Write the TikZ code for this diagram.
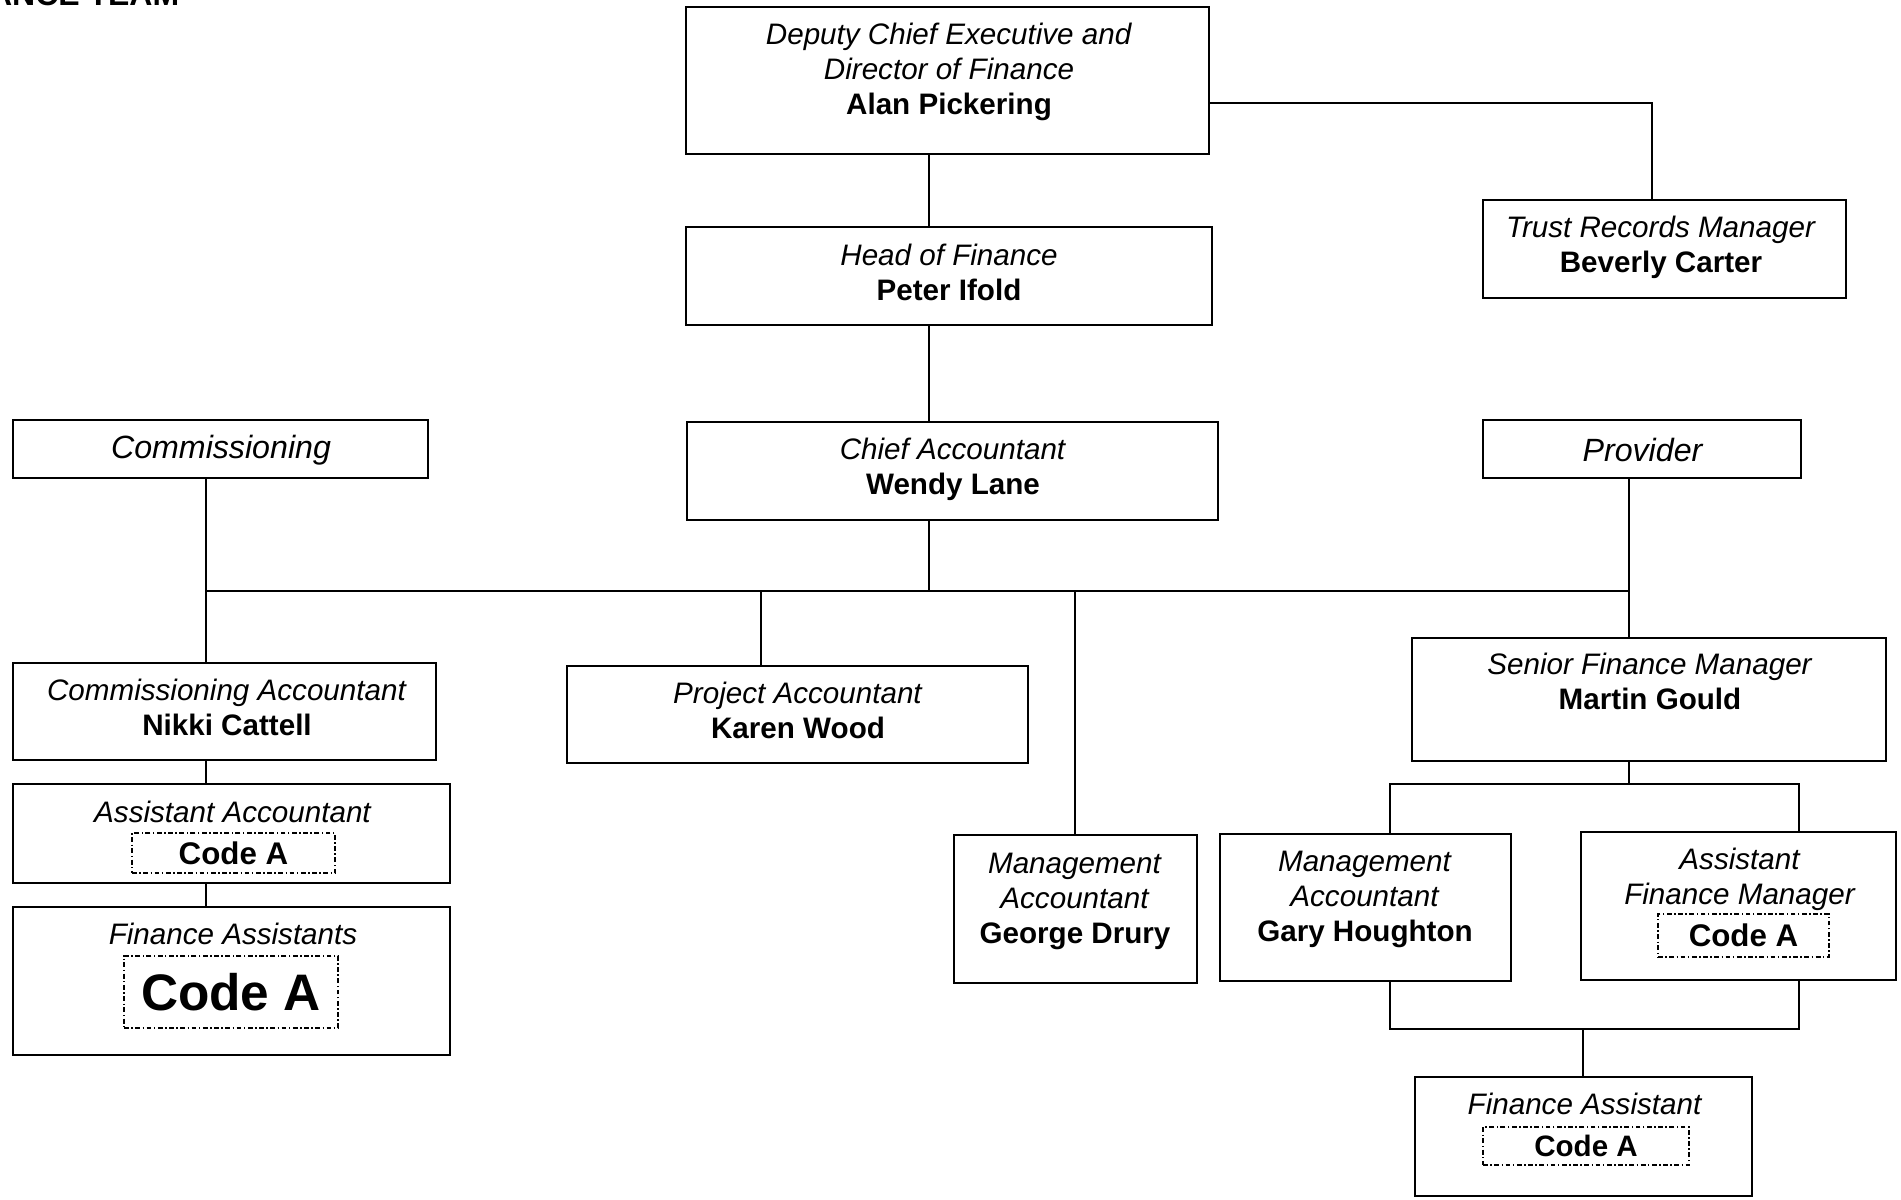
\documentclass[tikz,border=0pt]{standalone}
\usepackage{fontspec}
\setmainfont{Liberation Sans}
\usetikzlibrary{calc}
\newcommand\orgbox[5]{\node[box, minimum width={(#4-#2)*0.01cm}, minimum height={(#5-#3)*0.01cm}] (#1) at ({(#2+#4)/2},{(#3+#5)/2}) {};}
\newcommand\codebx[6]{\node[#6, minimum width={(#4-#2)*0.01cm}, minimum height={(#5-#3)*0.01cm}] (#1) at ({(#2+#4)/2},{(#3+#5)/2}) {Code A};}
\begin{document}
\begin{tikzpicture}[x=0.01cm,y=-0.01cm,
  box/.style={draw, line width=0.6pt, inner sep=0pt},
  codebox/.style={draw, line width=0.35pt, dash pattern=on 1.4pt off 0.7pt on 0.4pt off 0.7pt, inner sep=0pt, font=\fontsize{8.9}{10}\selectfont\bfseries},
  smallcode/.style={codebox, font=\fontsize{8.4}{10}\selectfont\bfseries},
  bigcode/.style={codebox, font=\fontsize{14.6}{17}\selectfont\bfseries},
  txt/.style={align=center, inner sep=0pt, font=\fontsize{8.42}{9.96}\selectfont},
  headtxt/.style={txt, font=\fontsize{9.15}{10.5}\selectfont},
  conn/.style={line width=0.6pt}]
\useasboundingbox (0,0) rectangle (1901,1199);

% title (cut off at the top edge, as in the original)
\node[anchor=base east, inner sep=0pt, font=\fontsize{9.1}{11}\selectfont\bfseries] (title) at (180,5) {ANCE TEAM};

% boxes
\orgbox{dep}{686}{7}{1209}{154}
\orgbox{hof}{686}{227}{1212}{325}
\orgbox{chief}{687}{422}{1218}{520}
\orgbox{trust}{1483}{200}{1846}{298}
\orgbox{comm}{13}{420}{428}{478}
\orgbox{prov}{1483}{420}{1801}{478}
\orgbox{ca}{13}{663}{436}{760}
\orgbox{aa}{13}{784}{450}{883}
\orgbox{fas}{13}{907}{450}{1055}
\orgbox{pa}{567}{666}{1028}{763}
\orgbox{mag}{954}{835}{1197}{983}
\orgbox{sfm}{1412}{638}{1886}{761}
\orgbox{gary}{1220}{834}{1511}{981}
\orgbox{afm}{1581}{832}{1896}{980}
\orgbox{fa}{1415}{1077}{1752}{1196}

% code boxes
\codebx{aacode}{132}{833}{335}{873}{codebox}
\codebx{fascode}{124}{956}{338}{1028}{bigcode}
\codebx{afmcode}{1658}{914}{1829}{957}{codebox}
\codebx{facode}{1483}{1127}{1689}{1165}{smallcode}

% texts
\node[txt] (depT) at (949,72) {\textit{Deputy Chief Executive and}\\\textit{Director of Finance}\\\textbf{Alan Pickering}};
\node[txt] (hofT) at (949,272) {\textit{Head of Finance}\\\textbf{Peter Ifold}};
\node[txt] (chiefT) at (953,469.5) {\textit{Chief Accountant}\\\textbf{Wendy Lane}};
\node[txt] (trustT) at (1661,247.5) {\textit{Trust Records Manager}\\\textbf{Beverly Carter}};
\node[headtxt] (commT) at (221,450) {\textit{Commissioning}};
\node[headtxt] (provT) at (1643,450) {\textit{Provider}};
\node[txt] (caT) at (227,707.5) {\textit{Commissioning Accountant}\\\textbf{Nikki Cattell}};
\node[txt] (paT) at (798,710) {\textit{Project Accountant}\\\textbf{Karen Wood}};
\node[txt] (aaT) at (233,811.5) {\textit{Assistant Accountant}};
\node[txt] (fasT) at (233,933.5) {\textit{Finance Assistants}};
\node[txt] (magT) at (1075,901) {\textit{Management}\\\textit{Accountant}\\\textbf{George Drury}};
\node[txt] (sfmT) at (1650,681.5) {\textit{Senior Finance Manager}\\\textbf{Martin Gould}};
\node[txt] (garyT) at (1365,899) {\textit{Management}\\\textit{Accountant}\\\textbf{Gary Houghton}};
\node[txt] (afmT) at (1740,879.5) {\textit{Assistant}\\\textit{Finance Manager}};
\node[txt] (faT) at (1585,1103.5) {\textit{Finance Assistant}};

% connector positions
\coordinate (trunk) at (929,0);
\coordinate (bus) at (0,591);
\coordinate (trustx) at (1652,103);
\coordinate (commx) at (206,0);
\coordinate (pax) at (761,0);
\coordinate (magx) at (1075,0);
\coordinate (provx) at (1629,0);
\coordinate (split) at (0,784);
\coordinate (garyx) at (1390,0);
\coordinate (afmx) at (1799,0);
\coordinate (join) at (0,1029);
\coordinate (fax) at (1583,0);

% connectors
\draw[conn] (dep.east |- trustx) -| (trust.north -| trustx);
\draw[conn] (dep.south -| trunk) -- (hof.north -| trunk);
\draw[conn] (hof.south -| trunk) -- (chief.north -| trunk);
\draw[conn] (chief.south -| trunk) -- (trunk |- bus);
\draw[conn] (commx |- bus) -- (provx |- bus);
\draw[conn] (comm.south -| commx) -- (ca.north -| commx);
\draw[conn] (ca.south -| commx) -- (aa.north -| commx);
\draw[conn] (aa.south -| commx) -- (fas.north -| commx);
\draw[conn] (pax |- bus) -- (pa.north -| pax);
\draw[conn] (magx |- bus) -- (mag.north -| magx);
\draw[conn] (prov.south -| provx) -- (sfm.north -| provx);
\draw[conn] (sfm.south -| provx) -- (provx |- split);
\draw[conn] (gary.north -| garyx) |- (split -| afmx) -- (afm.north -| afmx);
\draw[conn] (gary.south -| garyx) |- (join -| afmx) -- (afm.south -| afmx);
\draw[conn] (fax |- join) -- (fa.north -| fax);
\end{tikzpicture}
\end{document}
